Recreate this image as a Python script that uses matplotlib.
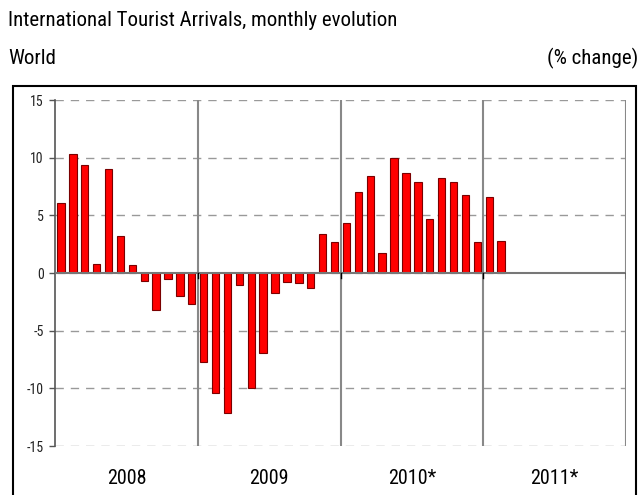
import matplotlib
matplotlib.use("Agg")
import matplotlib.pyplot as plt
from matplotlib.font_manager import fontManager
from matplotlib.patches import Rectangle
import numpy as np

# pick the narrowest available sans family
names = {f.name for f in fontManager.ttflist}
stretch = 'normal'
fam = None
for cand in ["Liberation Sans Narrow", "Arial Narrow", "Roboto Condensed", "Open Sans Condensed"]:
    if cand in names:
        fam = cand
        break
if fam is None:
    cond = [f for f in fontManager.ttflist if f.name == "DejaVu Sans" and "ondensed" in f.fname]
    if cond:
        fam = "DejaVu Sans"
        stretch = 'condensed'
    else:
        fam = "Liberation Sans"
plt.rcParams['font.family'] = [fam, 'DejaVu Sans']
plt.rcParams['font.stretch'] = stretch

years = ["2008", "2009", "2010*", "2011*"]
vals_2008 = [6.1, 10.3, 9.4, 0.8, 9.0, 3.2, 0.7, -0.7, -3.2, -0.5, -2.0, -2.7]
vals_2009 = [-7.7, -10.4, -12.1, -1.0, -10.0, -6.9, -1.7, -0.8, -0.9, -1.3, 3.4, 2.7]
vals_2010 = [4.3, 7.0, 8.4, 1.7, 10.0, 8.7, 7.9, 4.7, 8.2, 7.9, 6.8, 2.7]
vals_2011 = [6.6, 2.8]
yticks = [-15, -10, -5, 0, 5, 10, 15]

values = vals_2008 + vals_2009 + vals_2010 + vals_2011
n_months = 12 * len(years)

fig = plt.figure(figsize=(6.42, 4.95), dpi=100)
W, H = 642, 495
ax = fig.add_axes([55 / W, 1 - 446 / H, 571 / W, 346 / H])

x = np.arange(len(values)) + 0.5
ax.bar(x, values, width=0.62, color="#ff0000", edgecolor="#7a0000", linewidth=0.8, zorder=3)

ax.set_xlim(0, n_months)
ax.set_ylim(-15, 15)
ax.set_yticks(yticks)
ax.set_yticklabels([str(t) for t in yticks], fontsize=10, color='#222222')
ax.tick_params(axis='y', direction='out', length=4, width=1, color='#555555', pad=4)
ax.set_xticks([])

for t in yticks:
    if t == 0:
        continue
    ax.axhline(t, color='#999999', linewidth=1, linestyle=(0, (6, 5)), zorder=1)
ax.axhline(0, color='#777777', linewidth=1.5, zorder=4)

for b in range(12, n_months + 1, 12):
    ax.axvline(b, color='#888888', linewidth=1.5, zorder=2)
    ax.plot([b, b], [0, -0.4], color='black', linewidth=1, zorder=5)

for s in ['top', 'right', 'bottom']:
    ax.spines[s].set_visible(False)
ax.spines['left'].set_color('#555555')
ax.spines['left'].set_linewidth(1.2)

trans = matplotlib.transforms.blended_transform_factory(ax.transData, fig.transFigure)
for i, y in enumerate(years):
    ax.text(12 * i + 6, 1 - 478 / H, y, transform=trans, ha='center', va='center', fontsize=14.5)

fig.text(8 / W, 1 - 20 / H, "International Tourist Arrivals, monthly evolution", fontsize=15, va='center', ha='left')
fig.text(8 / W, 1 - 58 / H, "World", fontsize=15, va='center', ha='left')
fig.text(638 / W, 1 - 58 / H, "(% change)", fontsize=15, va='center', ha='right')

fig.patches.append(Rectangle((13 / W, -0.05), (636 - 13) / W, (1 - 86 / H) + 0.05,
                             transform=fig.transFigure, fill=False, edgecolor='black', linewidth=1.5))

fig.savefig("out.png", dpi=100)
